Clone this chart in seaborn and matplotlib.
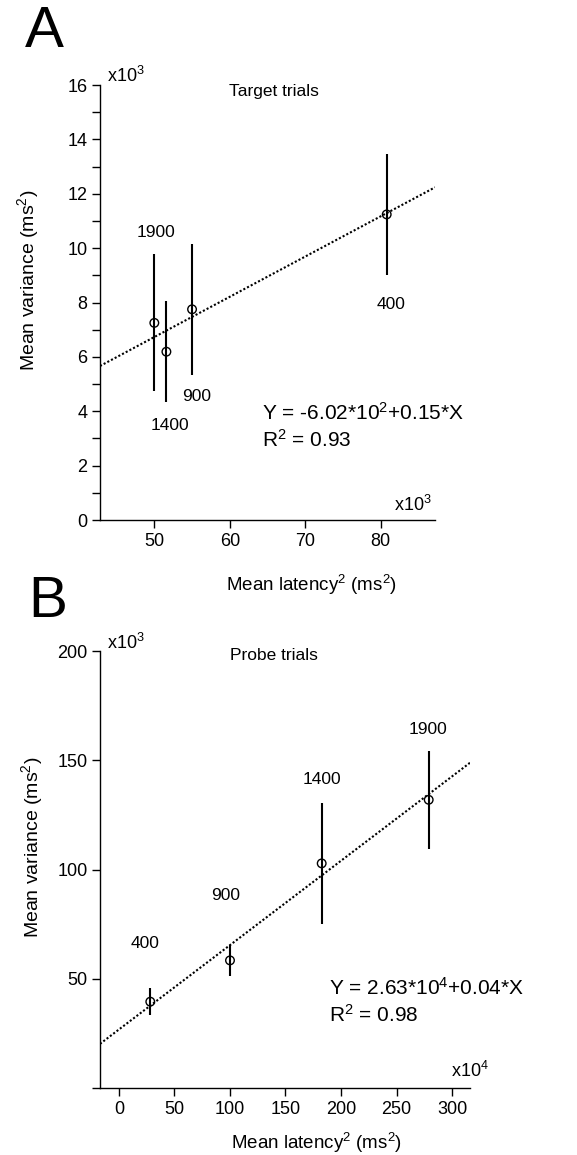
import numpy as np
import pandas as pd
import matplotlib
matplotlib.use("Agg")
import matplotlib.pyplot as plt
import seaborn as sns

# ---------------- data ----------------
# Panel A (Target trials): x in x10^3 ms^2, y in x10^3 ms^2
a_labels = ["1900", "1400", "900", "400"]
a_x = [50.0, 51.6, 55.0, 80.8]
a_y = [7.25, 6.19, 7.75, 11.24]
a_err = [2.52, 1.86, 2.40, 2.23]
a_fit = [-0.67, 0.148]          # intercept, slope (axis units)

# Panel B (Probe trials): x in x10^4 ms^2, y in x10^3 ms^2
b_labels = ["400", "900", "1400", "1900"]
b_x = [28.2, 100.0, 182.6, 279.0]
b_y = [39.5, 58.4, 102.8, 131.9]
b_err = [6.1, 7.2, 27.8, 22.3]
b_fit = [26.8, 0.386]

a_yticks = [0, 2, 4, 6, 8, 10, 12, 14, 16]
a_xticks = [50, 60, 70, 80]
b_yticks = [0, 50, 100, 150, 200]
b_ytick_labels = ["", "50", "100", "150", "200"]
b_xticks = [0, 50, 100, 150, 200, 250, 300]

# ---------------- style ----------------
sns.set_style("ticks")
plt.rcParams["font.family"] = ["Liberation Sans", "DejaVu Sans"]
plt.rcParams["mathtext.fontset"] = "custom"
plt.rcParams["mathtext.rm"] = "Liberation Sans"
plt.rcParams["mathtext.it"] = "Liberation Sans:italic"
plt.rcParams["mathtext.bf"] = "Liberation Sans:bold"
plt.rcParams["axes.linewidth"] = 1.0
for k in ["text.color", "axes.labelcolor", "xtick.color", "ytick.color",
          "axes.edgecolor"]:
    plt.rcParams[k] = "black"

W, H = 577, 1155
fig = plt.figure(figsize=(W / 100, H / 100), dpi=100)


def ax_rect(l, t, r, b):
    return [l / W, 1 - b / H, (r - l) / W, (b - t) / H]


def style_axes(ax):
    for s in ["top", "right"]:
        ax.spines[s].set_visible(False)
    ax.tick_params(axis="both", which="both", direction="out", length=6,
                   width=1.0, labelsize=13, colors="black", pad=3)


def panel(ax, xs, ys, errs, labels, fit, xlim, ylim, label_offsets):
    df = pd.DataFrame({"x": xs, "y": ys})
    ax.errorbar(xs, ys, yerr=errs, fmt="none", ecolor="black", elinewidth=1.5,
                capsize=0, zorder=2)
    xx = np.array(xlim)
    fdf = pd.DataFrame({"x": xx, "y": fit[0] + fit[1] * xx})
    sns.lineplot(data=fdf, x="x", y="y", ax=ax, color="black", linestyle=(0, (1, 1)),
                 linewidth=1.5, zorder=3)
    sns.scatterplot(data=df, x="x", y="y", ax=ax, marker="o", s=38,
                    facecolor="none", edgecolor="black", linewidth=1.0, zorder=4)
    for xv, yv, lab, (dx, dy) in zip(xs, ys, labels, label_offsets):
        ax.annotate(lab, (xv, yv), xytext=(dx, dy), textcoords="offset pixels",
                    ha="center", va="center", fontsize=12.5)
    ax.set_xlim(*xlim)
    ax.set_ylim(*ylim)
    ax.set_xlabel("")
    ax.set_ylabel("")
    style_axes(ax)


# ---------------- Panel A ----------------
axA = fig.add_axes(ax_rect(100, 85, 435, 520))
panel(axA, a_x, a_y, a_err, a_labels, a_fit, (42.8, 87.2), (0, 16),
      [(2, 90), (4, -74), (5, -87), (4, -90)])
axA.set_yticks(a_yticks)
axA.set_yticks(np.arange(1, 16, 2), minor=True)
axA.set_xticks(a_xticks)
axA.spines["left"].set_bounds(0, 16)
axA.text(0.52, 0.985, "Target trials", transform=axA.transAxes, ha="center",
         va="center", fontsize=12.5)
axA.text(0.02, 1.02, r"x10$^{3}$", transform=axA.transAxes, ha="left",
         va="center", fontsize=13)
axA.text(0.99, 0.035, r"x10$^{3}$", transform=axA.transAxes, ha="right",
         va="center", fontsize=13)
axA.text(0.485, 0.246, r"Y = -6.02*10$^{2}$+0.15*X", transform=axA.transAxes,
         ha="left", va="center", fontsize=15)
axA.text(0.485, 0.184, r"R$^{2}$ = 0.93", transform=axA.transAxes,
         ha="left", va="center", fontsize=15)
fig.text(28 / W, 1 - 280 / H, r"Mean variance (ms$^{2}$)", rotation=90,
         ha="center", va="center", fontsize=14)
fig.text(312 / W, 1 - 585 / H, r"Mean latency$^{2}$ (ms$^{2}$)",
         ha="center", va="center", fontsize=13.5)
fig.text(25 / W, 1 - 32 / H, "A", ha="left", va="center", fontsize=42)

# ---------------- Panel B ----------------
axB = fig.add_axes(ax_rect(100, 651, 470, 1088))
panel(axB, b_x, b_y, b_err, b_labels, b_fit, (-17.1, 316.2), (0, 200),
      [(-5, 58), (-4, 65), (0, 84), (-1, 70)])
axB.set_yticks(b_yticks)
axB.set_yticklabels(b_ytick_labels)
axB.set_xticks(b_xticks)
axB.spines["left"].set_bounds(0, 200)
axB.text(0.47, 0.99, "Probe trials", transform=axB.transAxes, ha="center",
         va="center", fontsize=12.5)
axB.text(0.02, 1.018, r"x10$^{3}$", transform=axB.transAxes, ha="left",
         va="center", fontsize=13)
axB.text(1.05, 0.04, r"x10$^{4}$", transform=axB.transAxes, ha="right",
         va="center", fontsize=13)
axB.text(0.62, 0.229, r"Y = 2.63*10$^{4}$+0.04*X", transform=axB.transAxes,
         ha="left", va="center", fontsize=15)
axB.text(0.62, 0.167, r"R$^{2}$ = 0.98", transform=axB.transAxes,
         ha="left", va="center", fontsize=15)
fig.text(32 / W, 1 - 847 / H, r"Mean variance (ms$^{2}$)", rotation=90,
         ha="center", va="center", fontsize=14)
fig.text(317 / W, 1 - 1143 / H, r"Mean latency$^{2}$ (ms$^{2}$)",
         ha="center", va="center", fontsize=13.5)
fig.text(28 / W, 1 - 602 / H, "B", ha="left", va="center", fontsize=42)

fig.savefig("out.png", dpi=100)
